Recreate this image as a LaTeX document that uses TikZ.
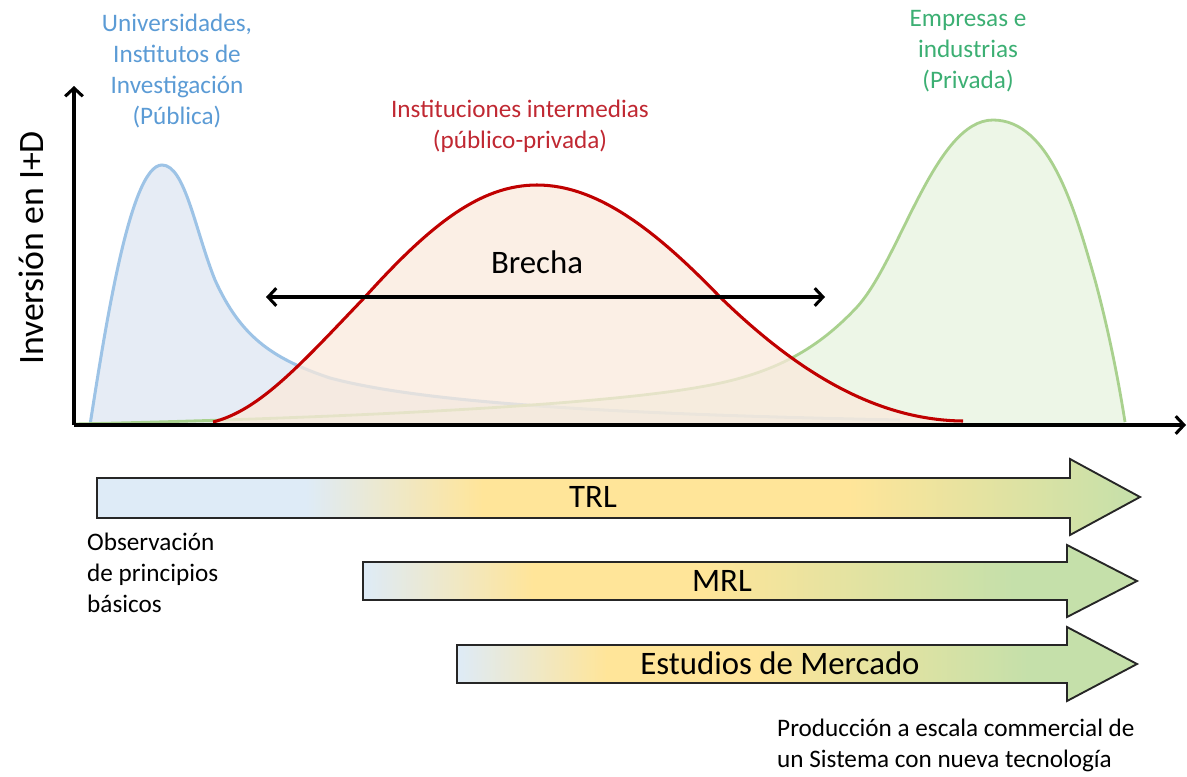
\documentclass[tikz,border=0pt]{standalone}
\usepackage{fontspec}
\setmainfont{Carlito}
\usetikzlibrary{arrows.meta}

\definecolor{pubblue}{RGB}{157,195,230}
\definecolor{pubfill}{RGB}{214,224,238}
\definecolor{publabel}{RGB}{91,155,213}
\definecolor{midred}{RGB}{192,0,0}
\definecolor{midfill}{RGB}{250,234,220}
\definecolor{midlabel}{RGB}{192,40,50}
\definecolor{privgreen}{RGB}{169,209,142}
\definecolor{privfill}{RGB}{222,238,212}
\definecolor{privlabel}{RGB}{60,175,115}
\definecolor{barblue}{RGB}{222,235,247}
\definecolor{baryellow}{RGB}{255,229,153}
\definecolor{bargreen}{RGB}{197,224,170}

% Verlaeufe der Pfeile (mittlere 50bp = Pfad)
\pgfdeclarehorizontalshading{trlshade}{100bp}{color(0bp)=(barblue); color(25bp)=(barblue); color(35bp)=(barblue); color(43.5bp)=(baryellow); color(61bp)=(baryellow); color(75bp)=(bargreen); color(100bp)=(bargreen)}
\pgfdeclarehorizontalshading{lvlshade}{100bp}{color(0bp)=(barblue); color(25bp)=(barblue); color(36bp)=(baryellow); color(47bp)=(baryellow); color(67bp)=(bargreen); color(100bp)=(bargreen)}

\tikzset{
  label/.style={font=\fontsize{21.5}{26.5}\selectfont, align=center, inner sep=0pt},
  big/.style={font=\fontsize{28}{32}\selectfont, inner sep=0pt},
  bar/.style={draw=black!85, line width=1.6pt, line join=miter},
  axis/.style={line width=2.6pt, -{Straight Barb[length=7pt,width=15pt]}}
}

\begin{document}
\begin{tikzpicture}[x=0.03cm, y=-0.03cm]
  \useasboundingbox (0,0) rectangle (1187,776);

  % Oeffentlich
  \fill[pubfill, fill opacity=0.6] (90,425) .. controls (105,330) and (130,165) .. (162,165)
    .. controls (185,165) and (195,230) .. (215,280)
    .. controls (240,335) and (270,358) .. (330,378)
    .. controls (420,402) and (600,414) .. (900,420) -- (900,425) -- cycle;
  \draw[pubblue, line width=2.6pt] (90,425) .. controls (105,330) and (130,165) .. (162,165)
    .. controls (185,165) and (195,230) .. (215,280)
    .. controls (240,335) and (270,358) .. (330,378)
    .. controls (420,402) and (600,414) .. (900,420);

  % Privat
  \fill[privfill, fill opacity=0.55] (74,424) .. controls (350,418) and (600,405) .. (700,387)
    .. controls (770,375) and (815,352) .. (857,307)
    .. controls (900,260) and (935,120) .. (993,120)
    .. controls (1050,120) and (1075,210) .. (1095,280)
    .. controls (1110,335) and (1120,390) .. (1125,422) -- (1125,425) -- cycle;
  \draw[privgreen, line width=2.4pt] (74,424) .. controls (350,418) and (600,405) .. (700,387)
    .. controls (770,375) and (815,352) .. (857,307)
    .. controls (900,260) and (935,120) .. (993,120)
    .. controls (1050,120) and (1075,210) .. (1095,280)
    .. controls (1110,335) and (1120,390) .. (1125,422);

  % Intermediaer
  \fill[midfill, fill opacity=0.75] (213,422) .. controls (260,410) and (300,365) .. (365,297)
    .. controls (430,225) and (480,185) .. (537,185)
    .. controls (600,185) and (660,235) .. (720,297)
    .. controls (790,365) and (870,420) .. (963,421) -- (963,425) -- (213,425) -- cycle;
  \draw[midred, line width=2.6pt] (213,422) .. controls (260,410) and (300,365) .. (365,297)
    .. controls (430,225) and (480,185) .. (537,185)
    .. controls (600,185) and (660,235) .. (720,297)
    .. controls (790,365) and (870,420) .. (963,421);

  % Achsen
  \coordinate (origin) at (74,425);
  \coordinate (ytop) at (74,86);
  \coordinate (xend) at (1186,425);
  \draw[axis] (origin) -- (ytop);
  \draw[axis] (origin) -- (xend);
  \node[big, font=\fontsize{30.5}{34}\selectfont, rotate=90] (ylabel) at (31,248) {Inversión en I+D};

  % Brecha
  \coordinate (gapleft) at (266,297);
  \coordinate (gapright) at (825,297);
  \draw[line width=2.6pt, {Straight Barb[length=7pt,width=15pt]}-{Straight Barb[length=7pt,width=15pt]}] (gapleft) -- (gapright);
  \node[big] (gap) at (537,262) {Brecha};

  % Akteure
  \node[label, text=publabel] (public) at (177,71) {Universidades,\\Institutos de\\Investigación\\(Pública)};
  \node[label, text=midlabel] (mixed) at (520,126) {Instituciones intermedias\\(público-privada)};
  \node[label, text=privlabel] (private) at (968,51) {Empresas e\\industrias\\(Privada)};

  % Reifegrade
  \shadedraw[bar, shading=trlshade] (97,478) -- (1070,478) -- (1070,459) -- (1140,497) -- (1070,535) -- (1070,518) -- (97,518) -- cycle;
  \node[big] (trl) at (593,497) {TRL};
  \shadedraw[bar, shading=lvlshade] (363,562) -- (1067,562) -- (1067,545) -- (1137,581) -- (1067,617) -- (1067,600) -- (363,600) -- cycle;
  \node[big] (mrl) at (722,581) {MRL};
  \shadedraw[bar, shading=lvlshade] (457,645) -- (1067,645) -- (1067,627) -- (1137,664) -- (1067,701) -- (1067,683) -- (457,683) -- cycle;
  \node[big] (market) at (780,663) {Estudios de Mercado};

  % Anfang und Ende
  \node[label, align=left, anchor=north west] (start) at (87,533) {Observación\\de principios\\básicos};
  \node[label, align=left, anchor=north west] (finish) at (777,719) {Producción a escala commercial de\\un Sistema con nueva tecnología};
\end{tikzpicture}
\end{document}
